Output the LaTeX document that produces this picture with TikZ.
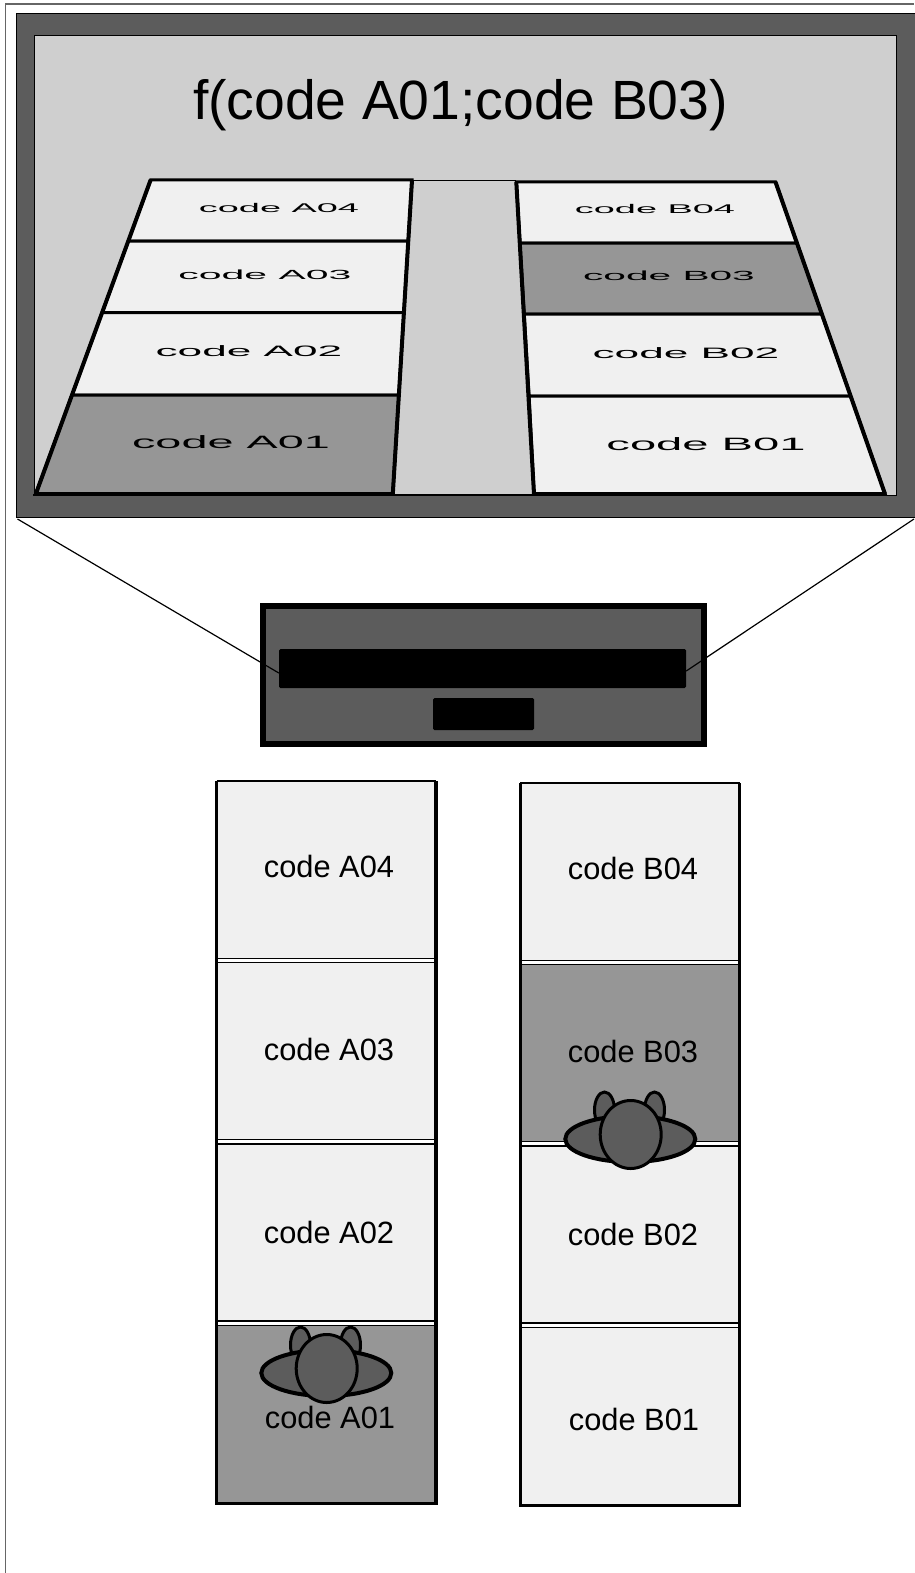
\documentclass[tikz,border=0pt]{standalone}
\usepackage{fontspec}
\setmainfont{Liberation Sans}
\usepackage{xcolor}
\usetikzlibrary{calc,shapes.geometric}

\definecolor{darkgrey}{HTML}{5C5C5C}
\definecolor{screengrey}{HTML}{CFCFCF}
\definecolor{cellgrey}{HTML}{F0F0F0}
\definecolor{chosengrey}{HTML}{969696}

\begin{document}
\begin{tikzpicture}[
    x=1pt,y=-1pt,
    every node/.style={font=\fontsize{30.8}{32}\selectfont,align=center},
    cell/.style={
        draw=black,
        line width=1.6pt,
        fill=cellgrey,
        minimum width=217.5pt,
        minimum height=177pt,
        inner sep=0pt
    },
    chosen/.style={cell,fill=chosengrey},
    rail/.style={draw=black,line width=3.6pt},
    topedge/.style={draw=black,line width=2.4pt},
    tile/.style={draw=black,line width=3pt,fill=cellgrey},
    chosentile/.style={tile,fill=chosengrey},
    siderail/.style={draw=black,line width=4pt},
    flat/.style={transform shape,inner sep=0pt,xscale=#1},
    ear/.style={
        ellipse,draw=black,line width=3pt,fill=darkgrey,
        minimum width=20pt,minimum height=36pt,inner sep=0pt
    },
    shoulders/.style={
        ellipse,draw=black,line width=4pt,fill=darkgrey,
        minimum width=130pt,minimum height=46pt,inner sep=0pt
    },
    head/.style={
        ellipse,draw=black,line width=3pt,fill=darkgrey,
        minimum width=61pt,minimum height=68pt,inner sep=0pt
    },
    slotbox/.style={fill=black,rounded corners=1.5pt,inner sep=0pt}
]
\useasboundingbox (0,0) rectangle (914,1573);

% Page edge
\draw[draw=black!60,line width=1.2pt] (5.5,1573) -- (5.5,4) -- (914,4);

% Screen
\node[draw=black,line width=1pt,fill=darkgrey,minimum width=900pt,minimum height=504pt,inner sep=0pt] (frame) at (466,265.5) {};
\node[draw=black,line width=1pt,fill=screengrey,minimum width=862pt,minimum height=459pt,inner sep=0pt] (screen) at (465,265.5) {};
\node[font=\fontsize{55.3}{60}\selectfont] (title) at (460.5,105.5) {f(code A01;code B03)};

% Floor, left row
\draw[black,line width=1pt] (149,180.5) -- (516,180.5);
\draw[black,line width=2pt] (33,495) -- (887,495);
\draw[tile] (150.6,180) -- (412,180) -- (408.3,241) -- (128.3,241) -- cycle;
\draw[tile] (128.3,241) -- (408.3,241) -- (403.9,312.5) -- (102.2,312.5) -- cycle;
\draw[tile] (102.2,312.5) -- (403.9,312.5) -- (398.9,395) -- (72,395) -- cycle;
\draw[chosentile] (72,395) -- (398.9,395) -- (392.8,493.5) -- (35.8,493.5) -- cycle;
\draw[siderail] (150.6,180) -- (35.8,494);
\draw[siderail] (412,180) -- (392.8,494);

% Floor, right row
\draw[tile] (516.3,182) -- (775.5,182) -- (796.9,243) -- (520,243) -- cycle;
\draw[chosentile] (520,243) -- (796.9,243) -- (821.8,314) -- (524.2,314) -- cycle;
\draw[tile] (524.2,314) -- (821.8,314) -- (850.6,396) -- (529.1,396) -- cycle;
\draw[tile] (529.1,396) -- (850.6,396) -- (885,493.5) -- (534,493.5) -- cycle;
\draw[siderail] (516.3,182) -- (534,494);
\draw[siderail] (775.5,182) -- (885,494);

% Floor labels
\node[flat=1.23,yscale=0.41] (floorA04) at (279,208) {code A04};
\node[flat=1.33,yscale=0.43] (floorA03) at (265,275) {code A03};
\node[flat=1.435,yscale=0.49] (floorA02) at (249,351) {code A02};
\node[flat=1.52,yscale=0.58] (floorA01) at (231,442) {code A01};
\node[flat=1.23,yscale=0.41] (floorB04) at (655,209) {code B04};
\node[flat=1.32,yscale=0.43] (floorB03) at (669,276) {code B03};
\node[flat=1.435,yscale=0.49] (floorB02) at (686,353) {code B02};
\node[flat=1.53,yscale=0.58] (floorB01) at (706,444) {code B01};

% Machine
\node[draw=black,line width=6pt,fill=darkgrey,minimum width=441pt,minimum height=138pt,inner sep=0pt] (machine) at (483.5,675) {};
\node[slotbox,minimum width=407pt,minimum height=39pt] (slot) at (482.5,668.5) {};
\node[slotbox,minimum width=101pt,minimum height=32pt] (tray) at (483.5,714) {};
\coordinate (slotleft) at (slot.west |- 0,673);
\coordinate (slotright) at (slot.east |- 0,671);

% Rays
\draw[black,line width=1.2pt] (frame.south west) ++(2,1) -- (slotleft);
\draw[black,line width=1.2pt] (914,519) -- (slotright);

% Column A
\node[cell] (cellA04) at (326.2,870) {};
\node[cell] (cellA03) at (326.2,1051) {};
\node[cell] (cellA02) at (326.2,1232.5) {};
\node[chosen] (cellA01) at (326.2,1414) {};
\draw[topedge] (cellA04.north west) -- (cellA04.north east);
\draw[rail] (cellA04.north west) -- (cellA01.south west) -- (cellA01.south east) -- (cellA04.north east);
\node (labelA04) at (329,866) {code A04};
\node (labelA03) at (329,1049) {code A03};
\node (labelA02) at (329,1232) {code A02};
\node (labelA01) at (330,1417) {code A01};

% Column B
\node[cell] (cellB04) at (630,872) {};
\node[chosen] (cellB03) at (630,1053) {};
\node[cell] (cellB02) at (630,1234.5) {};
\node[cell] (cellB01) at (630,1416) {};
\draw[topedge] (cellB04.north west) -- (cellB04.north east);
\draw[rail] (cellB04.north west) -- (cellB01.south west) -- (cellB01.south east) -- (cellB04.north east);
\node (labelB04) at (633,868) {code B04};
\node (labelB03) at (633,1051) {code B03};
\node (labelB02) at (633,1234) {code B02};
\node (labelB01) at (634,1419) {code B01};

% Person on A01
\node[ear] (earAl) at (300.5,1345) {};
\node[ear] (earAr) at (350.5,1345) {};
\node[shoulders] (shouldersA) at (326.3,1373) {};
\node[head] (headA) at (326.7,1368.5) {};

% Person on B03
\node[ear] (earBl) at (604.5,1110) {};
\node[ear] (earBr) at (654.5,1110) {};
\node[shoulders] (shouldersB) at (630.3,1139) {};
\node[head] (headB) at (630.7,1134.5) {};

\end{tikzpicture}
\end{document}
